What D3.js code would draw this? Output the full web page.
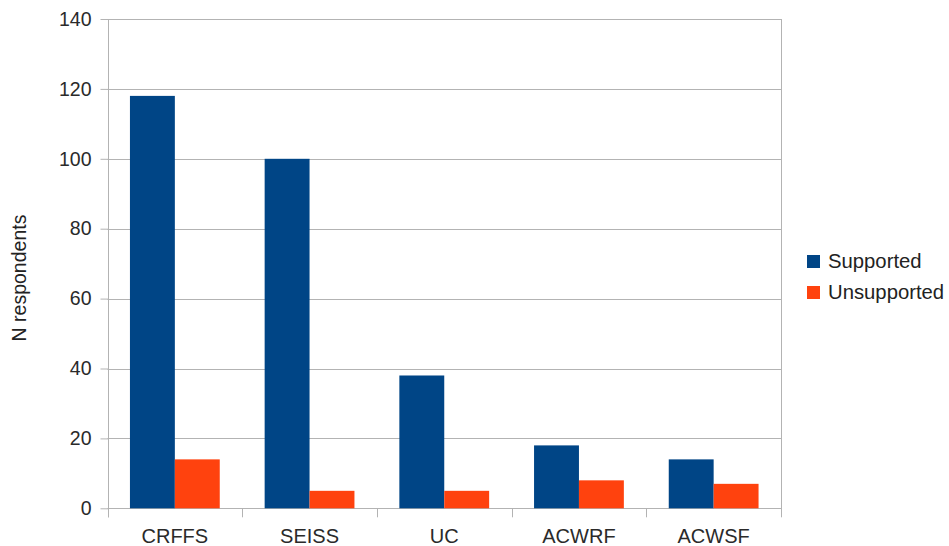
<!DOCTYPE html>
<html>
<head>
<meta charset="utf-8">
<script src="https://cdn.jsdelivr.net/npm/d3@7"></script>
<style>
  html, body { margin: 0; padding: 0; background: #fff; }
  svg { display: block; font-family: "Liberation Sans", Arial, sans-serif; }
</style>
</head>
<body>
<svg id="chart" width="949" height="546"></svg>
<script>
const categories = ["CRFFS", "SEISS", "UC", "ACWRF", "ACWSF"];
const seriesNames = ["Supported", "Unsupported"];
const supported = [118, 100, 38, 18, 14];
const unsupported = [14, 5, 5, 8, 7];
const yTicks = [0, 20, 40, 60, 80, 100, 120, 140];
const colors = ["#004586", "#ff420e"];
const yTitle = "N respondents";

const svg = d3.select("#chart");
const plotLeft = 107.5, plotRight = 781, plotTop = 19, plotBottom = 508.3;
const fontSize = 19.5, textColor = "#2a2a2a", gridColor = "#b3b3b3";

const y = d3.scaleLinear().domain([0, 140]).range([plotBottom, plotTop]);
const x0 = d3.scaleBand().domain(categories).range([plotLeft, plotRight]).paddingInner(0).paddingOuter(0);
const x1 = d3.scaleBand().domain(seriesNames).range([0, x0.bandwidth()]).paddingInner(0).paddingOuter(0.5);

// gridlines
svg.append("g").selectAll("line").data(yTicks).join("line")
  .attr("x1", plotLeft).attr("x2", plotRight)
  .attr("y1", d => Math.round(y(d)) + 0.5).attr("y2", d => Math.round(y(d)) + 0.5)
  .attr("stroke", gridColor).attr("stroke-width", 1);

// y axis
const yAxis = svg.append("g").attr("transform", `translate(${Math.round(plotLeft) + 0.5},0)`)
  .call(d3.axisLeft(y).tickValues(yTicks).tickSize(8).tickPadding(9).tickFormat(d3.format("d")));
yAxis.select(".domain").remove();
yAxis.selectAll(".tick line").attr("stroke", gridColor);
yAxis.append("line").attr("x1", 0).attr("x2", 0).attr("y1", y(140)).attr("y2", plotBottom + 9)
  .attr("stroke", gridColor);
yAxis.selectAll("text").attr("fill", textColor).style("font-size", fontSize + "px")
  .style("font-family", "'Liberation Sans', Arial, sans-serif");

// x axis (category boundary ticks)
const xAxisG = svg.append("g");
const boundaries = categories.map(c => x0(c)).concat([plotRight]);
xAxisG.selectAll("line").data(boundaries).join("line")
  .attr("x1", d => Math.round(d) + 0.5).attr("x2", d => Math.round(d) + 0.5)
  .attr("y1", d => (Math.abs(d - plotRight) < 1 ? y(140) : plotBottom)).attr("y2", plotBottom + 9)
  .attr("stroke", gridColor);
xAxisG.selectAll("text").data(categories).join("text")
  .attr("x", d => x0(d) + x0.bandwidth() / 2).attr("y", 543)
  .attr("text-anchor", "middle").attr("fill", textColor).style("font-size", "20px")
  .text(d => d);

// bars
const groups = svg.append("g").selectAll("g").data(categories).join("g")
  .attr("transform", d => `translate(${x0(d)},0)`);
groups.selectAll("rect")
  .data((d, i) => seriesNames.map((s, j) => ({ s, j, v: j === 0 ? supported[i] : unsupported[i] })))
  .join("rect")
  .attr("x", d => x1(d.s)).attr("width", x1.bandwidth())
  .attr("y", d => y(d.v)).attr("height", d => plotBottom - y(d.v))
  .attr("fill", d => colors[d.j]);

// y title
svg.append("text").attr("transform", "translate(26,278) rotate(-90)")
  .attr("text-anchor", "middle").attr("fill", "#222").style("font-size", fontSize + "px")
  .text(yTitle);

// legend
const legend = svg.append("g").attr("transform", "translate(807,255)");
const li = legend.selectAll("g").data(seriesNames).join("g")
  .attr("transform", (d, i) => `translate(0,${i * 31})`);
li.append("rect").attr("width", 13).attr("height", 13).attr("fill", (d, i) => colors[i]);
li.append("text").attr("x", 21).attr("y", 12.5).attr("fill", "#222")
  .style("font-size", "20.3px").text(d => d);
</script>
</body>
</html>
